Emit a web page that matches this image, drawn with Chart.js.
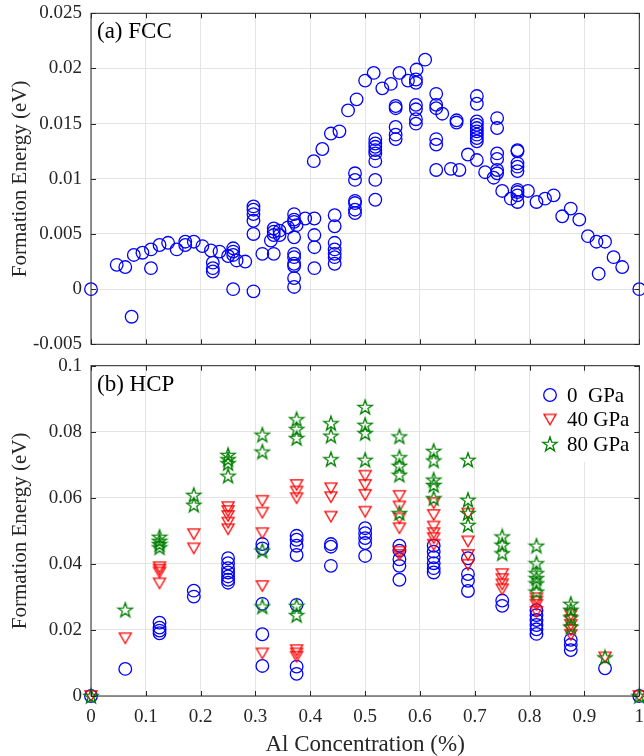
<!DOCTYPE html>
<html>
<head>
<meta charset="utf-8">
<script src="https://cdn.jsdelivr.net/npm/chart.js@4.4.0/dist/chart.umd.min.js"></script>
<style>
body{margin:0;background:#fff;}
#wrap{position:relative;width:644px;height:756px;}
canvas{position:absolute;left:0;}
#fcc{top:0;}
#hcp{top:350px;}
</style>
</head>
<body>
<div id="wrap">
<canvas id="fcc" width="644" height="362"></canvas>
<canvas id="hcp" width="644" height="406"></canvas>
</div>
<script>
// FCC: Al concentration and formation energies (eV) at each concentration
const fccConc = [0, 0.0469, 0.0625, 0.0741, 0.0781, 0.0938, 0.1094, 0.125, 0.1406, 0.1563, 0.1719, 0.1875,
  0.2031, 0.2188, 0.2222, 0.2344, 0.25, 0.2593, 0.2656, 0.2813, 0.2963, 0.3125, 0.3281, 0.3333, 0.3438,
  0.3594, 0.3704, 0.375, 0.3906, 0.4063, 0.4074, 0.4219, 0.4375, 0.4444, 0.4531, 0.4688, 0.4815, 0.4844,
  0.5, 0.5156, 0.5185, 0.5313, 0.5469, 0.5556, 0.5625, 0.5781, 0.5938, 0.5926, 0.6094, 0.6296, 0.6406,
  0.6563, 0.6667, 0.6719, 0.6875, 0.7037, 0.7188, 0.7344, 0.7407, 0.75, 0.7656, 0.7778, 0.7969, 0.8125,
  0.8281, 0.8438, 0.8594, 0.875, 0.8906, 0.9063, 0.9219, 0.9259, 0.9375, 0.9531, 0.9688, 1];
const fccEnergy = [[0],[0.0022],[0.0020],[-0.0025],[0.0031],[0.0033],[0.0036,0.0019],[0.0040],[0.0042],[0.0036],
  [0.0043,0.0040],[0.0043],[0.0039],[0.0035],[0.0024,0.0019,0.0016],[0.0034],[0.0030],[0.0037,0.0034,0.0031,0],
  [0.0026],[0.0025],[0.0075,0.0072,0.0068,0.0062,0.0050,-0.0002],[0.0032],[0.0044],[0.0055,0.0052,0.0049,0.0032],
  [0.0053,0.0049],[0.0056],[0.0068,0.0063,0.0061,0.0047,0.0032,0.0029,0.0023,0.0021,0.0010,0.0002],[0.0058],
  [0.0064],[0.0116],[0.0064,0.0049,0.0038,0.0019],[0.0127],[0.0141],[0.0067,0.0057,0.0042,0.0036,0.0032,0.0029,0.0023],
  [0.0143],[0.0162],[0.0105,0.0099,0.0080,0.0078,0.0072,0.0069],[0.0172],[0.0189],[0.0196],
  [0.0136,0.0132,0.0129,0.0126,0.0123,0.0116,0.0099,0.0081],[0.0182],[0.0186],[0.0166,0.0164,0.0147,0.0140,0.0136],
  [0.0196],[0.0189],[0.0199],[0.0190,0.0187,0.0167,0.0163,0.0154,0.0150],[0.0208],[0.0177,0.0167,0.0164,0.0136,0.0131,0.0108],
  [0.0159],[0.0109],[0.0153,0.0151],[0.0108],[0.0122],[0.0175,0.0168,0.0152,0.0149,0.0146,0.0143,0.0140,0.0137,0.0134,0.0117],
  [0.0106],[0.0101],[0.0155,0.0146,0.0123,0.0118,0.0108,0.0105],[0.0089],[0.0082],
  [0.0126,0.0125,0.0114,0.0111,0.0107,0.0090,0.0088,0.0085,0.0079],[0.0089],[0.0079],[0.0082],[0.0085],[0.0066],
  [0.0073],[0.0063],[0.0048],[0.0043],[0.0014],[0.0043],[0.0029],[0.0020],[0]];

// HCP: concentrations and formation energies at 0, 40, 80 GPa
const hcpConc = [0, 0.0625, 0.125, 0.1875, 0.25, 0.3125, 0.375, 0.4375, 0.5, 0.5625, 0.625, 0.6875, 0.75, 0.8125, 0.875, 0.9375, 1];
const gpa0 = [[0],[0.0082],[0.0222,0.0207,0.0198,0.0190],[0.0319,0.0301],[0.0417,0.0402,0.0387,0.0374,0.0362,0.0352,0.0343],
  [0.0460,0.0447,0.0279,0.0187,0.0091],[0.0485,0.0473,0.0455,0.0427,0.0276,0.0089,0.0067],[0.0460,0.0452,0.0394],
  [0.0508,0.0493,0.0478,0.0463,0.0424],[0.0455,0.0440,0.0414,0.0394,0.0352],[0.0455,0.0437,0.0420,0.0402,0.0387,0.0374],
  [0.0417,0.0369,0.0349,0.0318],[0.0289,0.0273],[0.0260,0.0245,0.0230,0.0215,0.0202,0.0188],[0.0170,0.0155,0.0139],[0.0084],[0]];
const gpa40 = [[0],[0.0175],[0.0390,0.0382,0.0374,0.0341],[0.0490,0.0447],[0.0572,0.0560,0.0545,0.0525,0.0505],
  [0.0591,0.0555,0.0493,0.0333,0.0129],[0.0639,0.0619,0.0599,0.0139,0.0129,0.0119],[0.0629,0.0602,0.0543],
  [0.0667,0.0639,0.0609,0.0558],[0.0606,0.0574,0.0538,0.0508,0.0437,0.0427],[0.0584,0.0548,0.0513,0.0493,0.0478,0.0458],
  [0.0552,0.0468,0.0427,0.0397],[0.0369,0.0354,0.0338,0.0323],[0.0296,0.0286,0.0276,0.0255],[0.0245,0.0230,0.0215,0.0200,0.0185],[0.0117],[0]];
const gpa80 = [[0],[0.0261],[0.0482,0.0470,0.0460,0.0450],[0.0609,0.0579],[0.0730,0.0717,0.0705,0.0667],
  [0.0791,0.0740,0.0440,0.0271],[0.0838,0.0808,0.0781,0.0273,0.0245],[0.0826,0.0788,0.0717],[0.0875,0.0821,0.0796,0.0715],
  [0.0786,0.0723,0.0697,0.0670,0.0554],[0.0742,0.0713,0.0655,0.0639,0.0599],[0.0715,0.0594,0.0554,0.0518],
  [0.0483,0.0458,0.0432],[0.0455,0.0402,0.0372,0.0357,0.0341,0.0316],[0.0279,0.0261,0.0238,0.0210],[0.0117],[0]];
const hcpLabels = ['0  GPa', '40 GPa', '80 GPa'];

const xTicks = [0,0.1,0.2,0.3,0.4,0.5,0.6,0.7,0.8,0.9,1];
const fccYTicks = [-0.005,0,0.005,0.01,0.015,0.02,0.025];
const hcpYTicks = [0,0.02,0.04,0.06,0.08,0.1];

const FONT = "'Liberation Serif', 'Times New Roman', serif";
const AXIS = '#262626';

function toPoints(conc, energies){
  let pts = [];
  conc.forEach((c,i)=>energies[i].forEach(e=>pts.push({x:c,y:e})));
  return pts;
}

// marker images (MATLAB style triangle down and pentagram)
function triMarker(){
  let c=document.createElement('canvas'); c.width=16; c.height=16;
  let g=c.getContext('2d');
  g.strokeStyle='#ff0000'; g.lineWidth=1.3;
  g.beginPath(); g.moveTo(2,2.8); g.lineTo(14,2.8); g.lineTo(8,13.2); g.closePath(); g.stroke();
  return c;
}
function starMarker(){
  let c=document.createElement('canvas'); c.width=18; c.height=18;
  let g=c.getContext('2d');
  g.strokeStyle='#008000'; g.lineWidth=1.3;
  g.beginPath();
  for(let k=0;k<10;k++){
    let r = k%2==0 ? 7.6 : 3.0;
    let a = -Math.PI/2 + k*Math.PI/5;
    let px=9+r*Math.cos(a), py=9.6+r*Math.sin(a);
    if(k==0) g.moveTo(px,py); else g.lineTo(px,py);
  }
  g.closePath(); g.stroke();
  return c;
}

// box + inward ticks, panel label
function boxPlugin(label){
  return {
    id:'box',
    afterDraw(chart){
      const ctx=chart.ctx, a=chart.chartArea, sx=chart.scales.x, sy=chart.scales.y;
      ctx.save();
      ctx.strokeStyle=AXIS; ctx.lineWidth=1;
      ctx.strokeRect(a.left, a.top, a.right-a.left, a.bottom-a.top);
      ctx.beginPath();
      xTicks.forEach(v=>{
        let px=Math.round(sx.getPixelForValue(v))+0.5;
        ctx.moveTo(px,a.bottom); ctx.lineTo(px,a.bottom-5);
        ctx.moveTo(px,a.top); ctx.lineTo(px,a.top+5);
      });
      sy.ticks.forEach(t=>{
        let py=Math.round(sy.getPixelForValue(t.value))+0.5;
        ctx.moveTo(a.left,py); ctx.lineTo(a.left+5,py);
        ctx.moveTo(a.right,py); ctx.lineTo(a.right-5,py);
      });
      ctx.stroke();
      ctx.fillStyle='#000'; ctx.font='23px '+FONT;
      ctx.textBaseline='middle'; ctx.textAlign='left';
      ctx.fillText(label, a.left+6, a.top+19);
      ctx.restore();
    }
  };
}

const legendPlugin = {
  id:'mlegend',
  afterDatasetsDraw(chart){
    const ctx=chart.ctx;
    ctx.save();
    ctx.fillStyle='#fff';
    ctx.fillRect(531, 24, 106, 88);
    ctx.font='21px '+FONT; ctx.fillStyle='#000';
    ctx.textBaseline='middle'; ctx.textAlign='left';
    hcpLabels.forEach((lab,i)=>{
      const ds=chart.data.datasets[i];
      const y=45+i*24.5, x=550;
      if(typeof ds.pointStyle==='string'){
        ctx.strokeStyle=ds.borderColor; ctx.lineWidth=1.3;
        ctx.beginPath(); ctx.arc(x,y,6.3,0,2*Math.PI); ctx.stroke();
      } else {
        const im=ds.pointStyle;
        ctx.drawImage(im, x-im.width/2, y-im.height/2);
      }
      ctx.fillText(lab, 567, y+1);
    });
    ctx.restore();
  }
};

function fixedAxes(yw, xh){
  return {
    x:{type:'linear', min:0, max:1,
      afterFit(s){ s.height=xh; s.paddingLeft=0; s.paddingRight=0; },
      afterBuildTicks(s){ s.ticks=xTicks.map(v=>({value:v})); },
      grid:{color:'#e4e4e4', drawTicks:false},
      border:{display:false},
      ticks:{display:false}},
    y:{type:'linear',
      afterFit(s){ s.width=yw; s.paddingTop=0; s.paddingBottom=0; },
      grid:{color:'#e4e4e4', drawTicks:false},
      border:{display:false},
      ticks:{color:AXIS, padding:9, font:{family:FONT, size:19},
        callback:v=>String(parseFloat(v.toFixed(4)))},
      title:{display:true, text:'Formation Energy (eV)', color:AXIS,
        font:{family:FONT, size:21}, padding:{top:8,bottom:0}}}
  };
}

// top panel: FCC
const fccScales = fixedAxes(91, 17.7);
fccScales.y.min=-0.005; fccScales.y.max=0.025;
fccScales.y.afterBuildTicks = s=>{ s.ticks=fccYTicks.map(v=>({value:v})); };
new Chart(document.getElementById('fcc').getContext('2d'), {
  type:'scatter',
  data:{datasets:[{
    label:'FCC', data:toPoints(fccConc,fccEnergy),
    pointStyle:'circle', pointRadius:6.3, borderWidth:1.3,
    borderColor:'#0000ff', backgroundColor:'rgba(0,0,0,0)', clip:false
  }]},
  options:{
    responsive:false, animation:false,
    layout:{autoPadding:false, padding:{top:13.3, right:4.7, left:0, bottom:0}},
    plugins:{legend:{display:false}, tooltip:{enabled:false}},
    scales:fccScales
  },
  plugins:[boxPlugin('(a) FCC')]
});

// bottom panel: HCP
const hcpScales = fixedAxes(91, 60);
hcpScales.y.min=0; hcpScales.y.max=0.1;
hcpScales.y.afterBuildTicks = s=>{ s.ticks=hcpYTicks.map(v=>({value:v})); };
hcpScales.x.ticks = {display:true, color:AXIS, padding:10, font:{family:FONT, size:19},
  callback:v=>String(parseFloat(v.toFixed(2)))};
hcpScales.x.title = {display:true, text:'Al Concentration (%)', color:AXIS,
  font:{family:FONT, size:23}, padding:{top:0,bottom:-3}};
new Chart(document.getElementById('hcp').getContext('2d'), {
  type:'scatter',
  data:{datasets:[
    {label:hcpLabels[0], data:toPoints(hcpConc,gpa0), order:3,
     pointStyle:'circle', pointRadius:6.3, borderWidth:1.3,
     borderColor:'#0000ff', backgroundColor:'rgba(0,0,0,0)', clip:false},
    {label:hcpLabels[1], data:toPoints(hcpConc,gpa40), order:2,
     pointStyle:triMarker(), pointRadius:7, borderColor:'#ff0000', clip:false},
    {label:hcpLabels[2], data:toPoints(hcpConc,gpa80), order:1,
     pointStyle:starMarker(), pointRadius:8, borderColor:'#008000', clip:false}
  ]},
  options:{
    responsive:false, animation:false,
    layout:{autoPadding:false, padding:{top:15.7, right:4.7, left:0, bottom:0}},
    plugins:{legend:{display:false}, tooltip:{enabled:false}},
    scales:hcpScales
  },
  plugins:[boxPlugin('(b) HCP'), legendPlugin]
});
</script>
</body>
</html>
